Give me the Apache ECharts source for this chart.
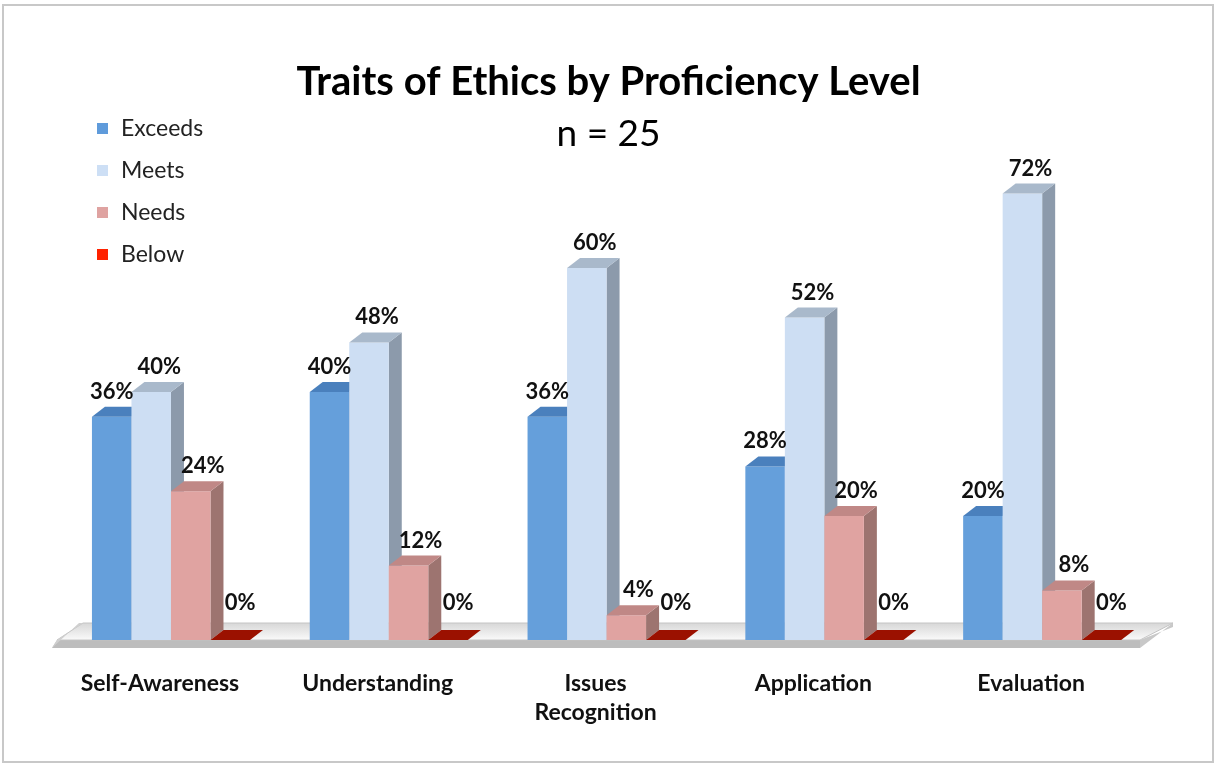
<!DOCTYPE html>
<html><head><meta charset="utf-8">
<script src="https://cdn.jsdelivr.net/npm/echarts@6/dist/echarts.min.js"></script>
<style>html,body{margin:0;padding:0;background:#fff}#c{width:1217px;height:764px}</style>
</head><body><div id="c"></div>
<script>
const categories = ['Self-Awareness','Understanding','Issues\nRecognition','Application','Evaluation'];
const seriesNames = ['Exceeds','Meets','Needs','Below'];
const exceeds = [36,40,36,28,20];
const meets = [40,48,60,52,72];
const needs = [24,12,4,20,8];
const below = [0,0,0,0,0];
const titleText = 'Traits of Ethics by Proficiency Level';
const subtitleText = 'n = 25';

const FONT = 'Lato';
const styles = [
  {legend:'#5f9bdb', front:'#659fdb', top:'#4a80bd', side:'#3f6fa6', dx:0},
  {legend:'#cddff5', front:'#cddef3', top:'#a9b9cb', side:'#8c9aab', dx:8},
  {legend:'#dfa3a1', front:'#e0a3a1', top:'#c08886', side:'#9d7470', dx:12},
  {legend:'#ff2200', front:'#a11a00', top:'#9b1100', side:'#7d0e00', dx:10}
];
const DEPTH_X = 13, DEPTH_Y = 10;

function barRenderer(k){
  return function(params, api){
    const i = api.value(0), v = api.value(1);
    const base = api.coord([i,0]);
    const topPt = api.coord([i,v]);
    const bw = api.size([1,0])[0];
    const w = bw*0.1814;
    const x0 = base[0] - bw*0.312 + k*w;
    const x1 = x0 + w;
    const yb = base[1], yt = topPt[1];
    const st = styles[k];
    const children = [];
    if (yb - yt > 0.5) {
      children.push({type:'polygon', shape:{points:[[x1,yb],[x1+DEPTH_X,yb-DEPTH_Y],[x1+DEPTH_X,yt-DEPTH_Y],[x1,yt]]}, style:{fill:st.side}});
      children.push({type:'rect', shape:{x:x0,y:yt,width:w,height:yb-yt}, style:{fill:st.front}});
    }
    children.push({type:'polygon', shape:{points:[[x0,yt],[x1,yt],[x1+DEPTH_X,yt-DEPTH_Y],[x0+DEPTH_X,yt-DEPTH_Y]]}, style:{fill:st.top}});
    const ly = Math.min(yt - 14, yb - 26);
    children.push({type:'text', z2:100, style:{text: v+'%', x:(x0+x1)/2+st.dx, y:ly, align:'center', verticalAlign:'bottom', font:'bold 22px '+FONT, fill:'#111'}});
    return {type:'group', children};
  };
}

function floorRenderer(params, api){
  const cs = params.coordSys;
  const gx = cs.x, gw = cs.width, yb = cs.y + cs.height;
  return {type:'group', children:[
    {type:'polygon', shape:{points:[[gx+1,yb+8],[gx+gw,yb+8],[gx+gw,yb],[gx+6,yb]]}, style:{fill:'#bdbdbd'}},
    {type:'polygon', shape:{points:[[gx+gw,yb+8],[gx+gw+33,yb-17],[gx+gw+33,yb-13],[gx+gw,yb]]}, style:{fill:'#c8c8c8'}},
    {type:'polygon', shape:{points:[[gx+6,yb],[gx+gw,yb],[gx+gw+33,yb-17],[gx+32,yb-17]]},
      style:{fill:{type:'linear',x:0,y:0,x2:0,y2:1,colorStops:[{offset:0,color:'#d6d6d6'},{offset:1,color:'#fbfbfb'}]}, stroke:'#c4c4c4', lineWidth:1}},
    {type:'polygon', shape:{points:[[gx+1,yb+8],[gx+6,yb],[gx+32,yb-17],[gx+28,yb-17]]}, style:{fill:'#cfcfcf'}}
  ]};
}

const seriesData = [exceeds, meets, needs, below];
const series = [{
  type:'custom', name:'floor', silent:true, data:[[0,0]], renderItem: floorRenderer, z:1
}];
seriesNames.forEach((n,k)=>{
  series.push({
    type:'custom', name:n, z:2,
    itemStyle:{color: styles[k].legend},
    data: seriesData[k].map((v,i)=>[i,v]),
    encode:{x:0,y:1},
    renderItem: barRenderer(k)
  });
});

const chart = echarts.init(document.getElementById('c'), null, {renderer:'canvas'});
chart.setOption({
  animation:false,
  backgroundColor:'#fff',
  graphic:[{type:'rect', shape:{x:3,y:5,width:1210,height:757}, style:{fill:null, stroke:'#c8c8c8', lineWidth:2}, silent:true}],
  title:[
    {text:titleText, left:'center', top:57, textStyle:{fontFamily:FONT, fontWeight:'bold', fontSize:40, color:'#000'}},
    {text:subtitleText, left:'center', top:111, textStyle:{fontFamily:FONT, fontWeight:'normal', fontSize:37, color:'#000'}}
  ],
  legend:{
    orient:'vertical', left:92, top:112, itemWidth:11, itemHeight:11, itemGap:19,
    icon:'rect', data: seriesNames,
    textStyle:{fontFamily:FONT, fontSize:23, color:'#222', padding:[0,0,0,8]}
  },
  grid:{left:51, right:77, top:144, bottom:124},
  xAxis:{type:'category', data:categories, axisLine:{show:false}, axisTick:{show:false},
    axisLabel:{margin:29, fontFamily:FONT, fontWeight:'bold', fontSize:23, color:'#111', lineHeight:29}},
  yAxis:{type:'value', min:0, max:80, show:false},
  series
});
</script></body></html>
